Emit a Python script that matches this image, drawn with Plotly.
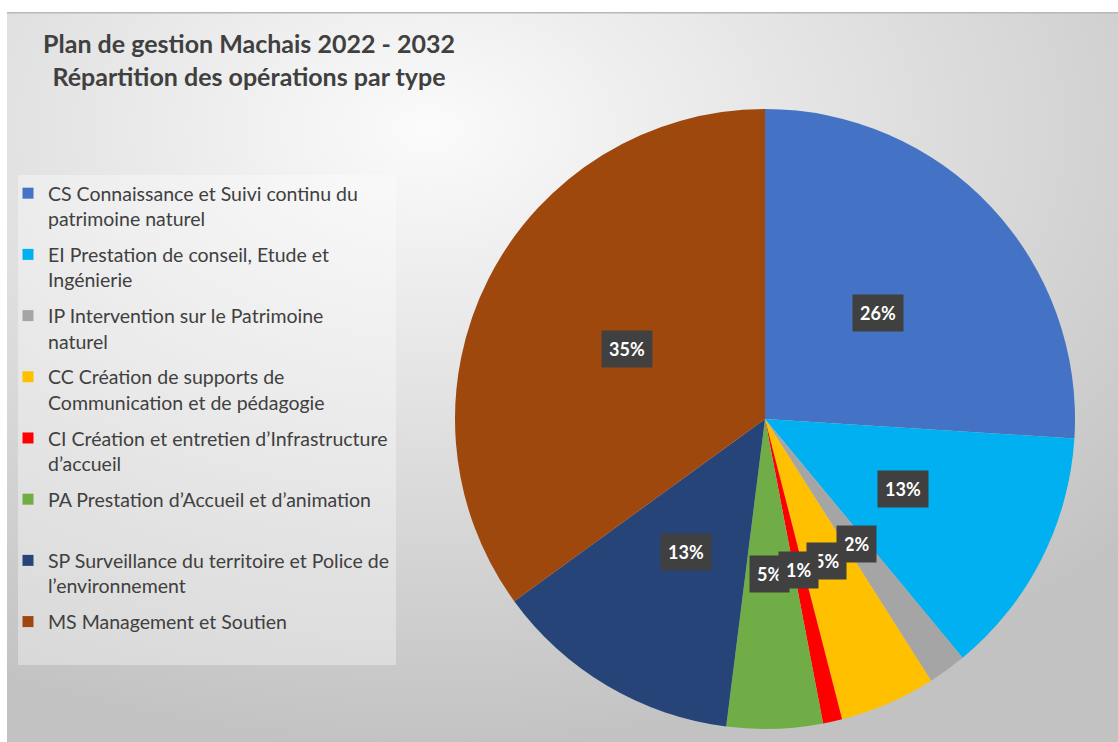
import base64
import math
import plotly.graph_objects as go

# ---- data ----
labels = [
    "CS Connaissance et Suivi continu du<br>patrimoine naturel",
    "EI Prestation de conseil, Etude et<br>Ingénierie",
    "IP Intervention sur le Patrimoine<br>naturel",
    "CC Création de supports de<br>Communication et de pédagogie",
    "CI Création et entretien d’Infrastructure<br>d’accueil",
    "PA Prestation d’Accueil et d’animation<br> ",
    "SP Surveillance du territoire et Police de<br>l’environnement",
    "MS Management et Soutien",
]
values = [26, 13, 2, 5, 1, 5, 13, 35]
colors = ["#4472C4", "#00B0F0", "#A5A5A5", "#FFC000", "#FF0000", "#70AD47", "#264478", "#9E480E"]
title_lines = ["Plan de gestion Machais 2022 - 2032", "Répartition des opérations par type"]

W, H = 1118, 742
FONT = "Lato"

dom_x = [455 / W, 1075 / W]
dom_y = [(H - 729) / H, (H - 109) / H]

fig = go.Figure()
fig.add_trace(go.Pie(
    labels=labels,
    values=values,
    marker=dict(colors=colors, line=dict(width=0)),
    sort=False,
    direction="clockwise",
    rotation=0,
    textinfo="none",
    hoverinfo="label+percent",
    domain=dict(x=dom_x, y=dom_y),
    showlegend=False,
))

# legend entries (one per category, so a gap can separate them)
for lab, col in zip(labels, colors):
    fig.add_trace(go.Scatter(
        x=[None], y=[None], mode="markers", name=lab, legendgroup=lab,
        marker=dict(symbol="square", size=11, color=col),
        hoverinfo="skip",
    ))

# data labels at half radius, computed from the values
total = sum(values)
cx_px = (dom_x[0] + dom_x[1]) / 2 * W
cy_px = (dom_y[0] + dom_y[1]) / 2 * H
R = min((dom_x[1] - dom_x[0]) * W, (dom_y[1] - dom_y[0]) * H) / 2
mids = []
cum = 0
for v in values:
    mids.append((cum + v / 2) / total)
    cum += v
draw_order = [0, 1, 2, 3, 5, 6, 7, 4]  # stacking of overlapping label boxes
for i in draw_order:
    v = values[i]
    ang = math.radians(90 - 360 * mids[i])
    r = 0.5 * R
    fig.add_annotation(
        x=(cx_px + r * math.cos(ang)) / W,
        y=(cy_px + r * math.sin(ang)) / H,
        xref="paper", yref="paper", xanchor="center", yanchor="middle",
        text=f"<b>{round(100 * v / total)}%</b>",
        showarrow=False,
        font=dict(family=FONT, size=18, color="white"),
        bgcolor="#404040",
        borderpad=7,
    )

svg = f"""<svg xmlns='http://www.w3.org/2000/svg' width='{W-7}' height='{H-12}' viewBox='0 0 {W-7} {H-12}'>
<defs><radialGradient id='g' cx='0.38' cy='0.16' r='0.85' gradientUnits='objectBoundingBox'>
<stop offset='0' stop-color='#fbfbfb'/><stop offset='0.55' stop-color='#dcdcdc'/><stop offset='1' stop-color='#c2c2c2'/>
</radialGradient></defs>
<rect width='100%' height='100%' fill='url(#g)'/>
<rect width='100%' height='1.5' fill='#b8b8b8'/>
</svg>"""
src = "data:image/svg+xml;base64," + base64.b64encode(svg.encode()).decode()

fig.update_layout(
    width=W, height=H,
    margin=dict(l=0, r=0, t=0, b=0),
    paper_bgcolor="white",
    plot_bgcolor="rgba(0,0,0,0)",
    xaxis=dict(visible=False),
    yaxis=dict(visible=False),
    images=[dict(source=src, xref="paper", yref="paper", x=7 / W, y=(H - 12) / H,
                 sizex=(W - 7) / W, sizey=(H - 12) / H, xanchor="left", yanchor="top",
                 sizing="stretch", layer="below")],
    shapes=[dict(type="rect", xref="paper", yref="paper", x0=18 / W, x1=396 / W,
                 y0=(H - 665) / H, y1=(H - 175) / H, fillcolor="rgba(255,255,255,0.35)",
                 line=dict(width=0), layer="below")],
    title=dict(text="<b>" + "<br>".join(title_lines) + "</b>", x=249 / W, xanchor="center",
               y=(H - 53) / H, yanchor="top",
               font=dict(family=FONT, size=25, color="#404040")),
    legend=dict(x=8 / W, y=(H - 174) / H, xanchor="left", yanchor="top",
                bgcolor="rgba(0,0,0,0)", valign="top", itemwidth=30,
                tracegroupgap=7.5,
                font=dict(family=FONT, size=19.5, color="#404040"), traceorder="grouped"),
    showlegend=True,
)

fig.write_html("out.html", config={"displayModeBar": False},
               post_script="document.body.style.margin='0';")
